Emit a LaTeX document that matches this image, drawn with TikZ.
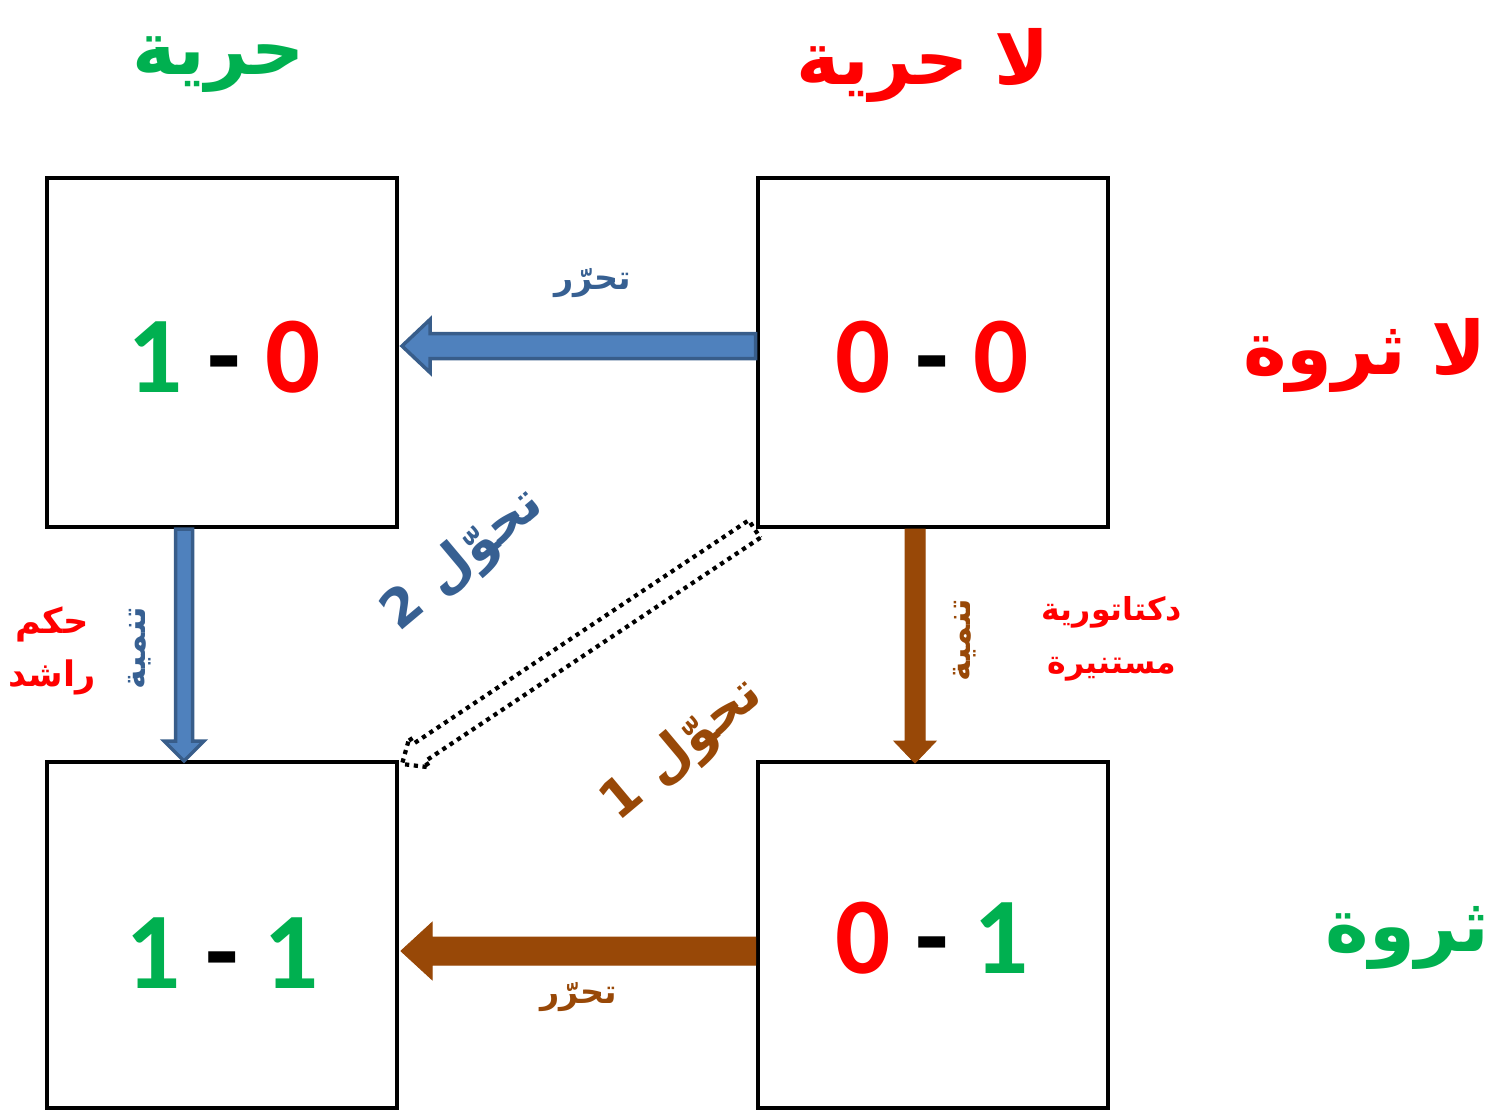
\documentclass[tikz,border=0pt]{standalone}
\usepackage{fontspec}
\usepackage{xcolor}
\usetikzlibrary{calc,positioning}
\TeXXeTstate=1
\newfontfamily\arabicfont[Script=Arabic]{DejaVu Sans}
\newfontfamily\scorefont{Carlito}
\definecolor{okgreen}{HTML}{00B050}
\definecolor{nored}{HTML}{FF0000}
\definecolor{arrblue}{HTML}{4F81BD}
\definecolor{arrblueline}{HTML}{385D8A}
\definecolor{txtblue}{HTML}{376092}
\definecolor{arrbrown}{HTML}{984807}
\newcommand{\artext}[1]{{\arabicfont\bfseries\beginR #1\endR}}
% block arrow: style, tail, tip, shaft half width, head half width, head length
\newcommand{\blockarrow}[6]{%
  \coordinate (ba-s) at #2;
  \coordinate (ba-e) at #3;
  \coordinate (ba-h) at ($(ba-e)!#6!(ba-s)$);
  \draw[#1] ($(ba-s)!#4!90:(ba-e)$) -- ($(ba-h)!#4!90:(ba-e)$) -- ($(ba-h)!#5!90:(ba-e)$)
    -- (ba-e) -- ($(ba-h)!#5!-90:(ba-e)$) -- ($(ba-h)!#4!-90:(ba-e)$) -- ($(ba-s)!#4!-90:(ba-e)$) -- cycle;}

\begin{document}
\begin{tikzpicture}[
    box/.style={draw, line width=0.08cm, minimum width=7cm, minimum height=6.98cm},
    score/.style={font=\scorefont\bfseries\fontsize{62}{70}\selectfont},
    title/.style={font=\fontsize{42}{50}\selectfont},
    lbl/.style={font=\fontsize{19}{30}\selectfont, align=center},
    turn/.style={font=\fontsize{30}{36}\selectfont, rotate=40},
    bluearr/.style={fill=arrblue, draw=arrblueline, line width=0.07cm},
    brownarr/.style={fill=arrbrown, draw=arrbrown, line width=0.02cm},
    dotarr/.style={draw=black, line width=2.4pt, dash pattern=on 2.4pt off 2.6pt}]
    \useasboundingbox (0,0) rectangle (29.86,-22.2);
    % the four boxes
    \node[box] (tl) at (4.44,-7.05) {};
    \node[box] (tr) at (18.65,-7.05) {};
    \node[box, minimum height=6.92cm] (bl) at (4.44,-18.70) {};
    \node[box, minimum height=6.92cm] (br) at (18.65,-18.70) {};
    % scores
    \node[score] (s10) at ([xshift=0.04cm,yshift=-0.09cm]tl.center) {\textcolor{okgreen}{1} - \textcolor{nored}{0}};
    \node[score] (s00) at ([xshift=-0.01cm,yshift=-0.09cm]tr.center) {\textcolor{nored}{0} - \textcolor{nored}{0}};
    \node[score] (s11) at ([yshift=-0.36cm]bl.center) {\textcolor{okgreen}{1} - \textcolor{okgreen}{1}};
    \node[score] (s01) at ([xshift=-0.01cm,yshift=-0.06cm]br.center) {\textcolor{nored}{0} - \textcolor{okgreen}{1}};
    % headings
    \node[title, text=okgreen] (free) at (4.37,-1.3) {\artext{حرية}};
    \node[title, text=nored] (unfree) at (18.46,-1.3) {\artext{لا حرية}};
    \node[title, text=nored] (poor) at (27.3,-7.1) {\artext{لا ثروة}};
    \node[title, text=okgreen] (rich) at (28.15,-18.75) {\artext{ثروة}};
    % arrows
    \blockarrow{bluearr}{([yshift=0.13cm]tr.west)}{([xshift=0.06cm,yshift=0.13cm]tl.east)}{0.25cm}{0.53cm}{0.56cm}
    \blockarrow{brownarr}{([yshift=-0.32cm]br.west)}{([xshift=0.04cm,yshift=-0.32cm]bl.east)}{0.28cm}{0.57cm}{0.62cm}
    \blockarrow{bluearr}{([xshift=-0.76cm]tl.south)}{([xshift=-0.76cm,yshift=-0.02cm]bl.north)}{0.17cm}{0.4cm}{0.4cm}
    \blockarrow{brownarr}{([xshift=-0.35cm]tr.south)}{([xshift=-0.35cm,yshift=-0.06cm]br.north)}{0.2cm}{0.42cm}{0.44cm}
    \blockarrow{dotarr}{([xshift=-0.02cm]tr.south west)}{([xshift=0.06cm,yshift=-0.08cm]bl.north east)}{0.21cm}{0.36cm}{0.42cm}
    % labels
    \node[lbl, text=txtblue] (libtop) at (11.85,-5.66) {\artext{تحرّر}};
    \node[lbl, text=arrbrown] (libbot) at (11.58,-19.94) {\artext{تحرّر}};
    \node[lbl, text=txtblue, rotate=90] (devleft) at (2.8,-12.96) {\artext{تنمية}};
    \node[lbl, text=arrbrown, rotate=90] (devright) at (19.3,-12.8) {\artext{تنمية}};
    \node[lbl, text=nored, font=\fontsize{20}{30}\selectfont] (good) at (1.04,-13.02) {\artext{حكم}\\\artext{راشد}};
    \node[lbl, text=nored, font=\fontsize{18}{30}\selectfont] (dict) at (22.24,-12.78) {\artext{دكتاتورية}\\\artext{مستنيرة}};
    \node[turn, text=txtblue] (turntwo) at (9.28,-11.2) {\artext{تحوّل 2}};
    \node[turn, text=arrbrown] (turnone) at (13.66,-15.0) {\artext{تحوّل 1}};
\end{tikzpicture}
\end{document}
